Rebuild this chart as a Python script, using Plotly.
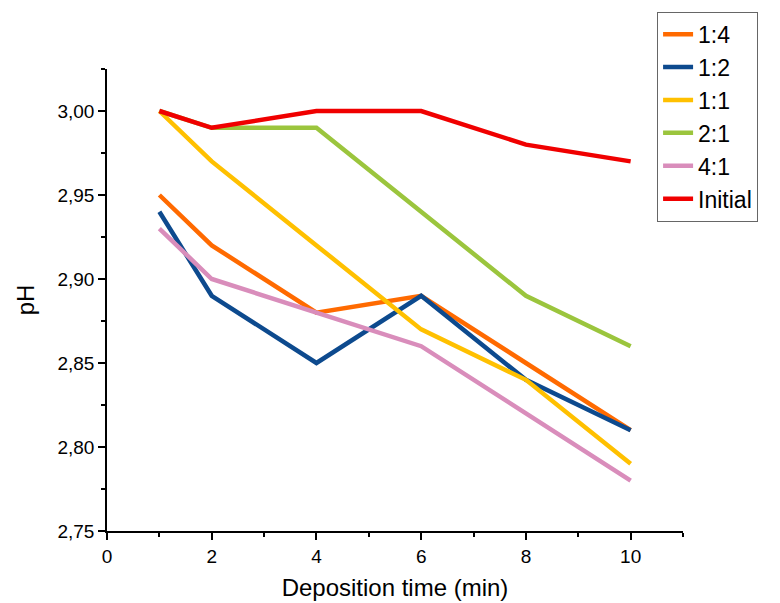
import plotly.graph_objects as go

time_min = [1, 2, 4, 6, 8, 10]
series_names = ["1:4", "1:2", "1:1", "2:1", "4:1", "Initial"]
ph_1_4 = [2.95, 2.92, 2.88, 2.89, 2.85, 2.81]
ph_1_2 = [2.94, 2.89, 2.85, 2.89, 2.84, 2.81]
ph_1_1 = [3.00, 2.97, 2.92, 2.87, 2.84, 2.79]
ph_2_1 = [3.00, 2.99, 2.99, 2.94, 2.89, 2.86]
ph_4_1 = [2.93, 2.90, 2.88, 2.86, 2.82, 2.78]
ph_initial = [3.00, 2.99, 3.00, 3.00, 2.98, 2.97]

series_values = [ph_1_4, ph_1_2, ph_1_1, ph_2_1, ph_4_1, ph_initial]
colors = ["#FF6A00", "#0D4A8E", "#FFC000", "#9BC53D", "#D98DBB", "#F00000"]

fig = go.Figure()
for name, vals, col in zip(series_names, series_values, colors):
    fig.add_trace(go.Scatter(x=time_min, y=vals, name=name, mode="lines",
                             line=dict(color=col, width=4.5)))

font_family = "Liberation Sans, Arial, sans-serif"
fig.update_layout(
    width=780, height=603,
    margin=dict(l=107, r=97, t=69, b=72, autoexpand=False),
    plot_bgcolor="white", paper_bgcolor="white",
    separators=",.",
    font=dict(family=font_family, color="black", size=18),
    showlegend=True,
    legend=dict(x=0.955, y=1.124, xanchor="left", yanchor="top",
                bordercolor="#666666", borderwidth=1,
                font=dict(size=23, family=font_family),
                tracegroupgap=0, itemwidth=30, bgcolor="white"),
)
fig.update_xaxes(range=[0, 11], tickvals=[0, 2, 4, 6, 8, 10], automargin=False,
                 showline=True, linecolor="black", linewidth=1.5,
                 ticks="outside", ticklen=7, tickwidth=1.5, tickcolor="black",
                 minor=dict(dtick=1, tick0=0, ticks="outside", ticklen=4,
                            tickwidth=1.5, tickcolor="black"),
                 showgrid=False, zeroline=False,
                 tickfont=dict(size=19),
                 title=dict(text="Deposition time (min)", font=dict(size=24), standoff=14))
fig.update_yaxes(range=[2.75, 3.025], tickvals=[2.75, 2.80, 2.85, 2.90, 2.95, 3.00],
                 tickformat=".2f", automargin=False,
                 showline=True, linecolor="black", linewidth=1.5,
                 ticks="outside", ticklen=7, tickwidth=1.5, tickcolor="black",
                 minor=dict(dtick=0.025, tick0=2.75, ticks="outside", ticklen=4,
                            tickwidth=1.5, tickcolor="black"),
                 showgrid=False, zeroline=False,
                 tickfont=dict(size=19),
                 title=dict(text="pH", font=dict(size=24), standoff=16))

fig.write_html("out.html")
